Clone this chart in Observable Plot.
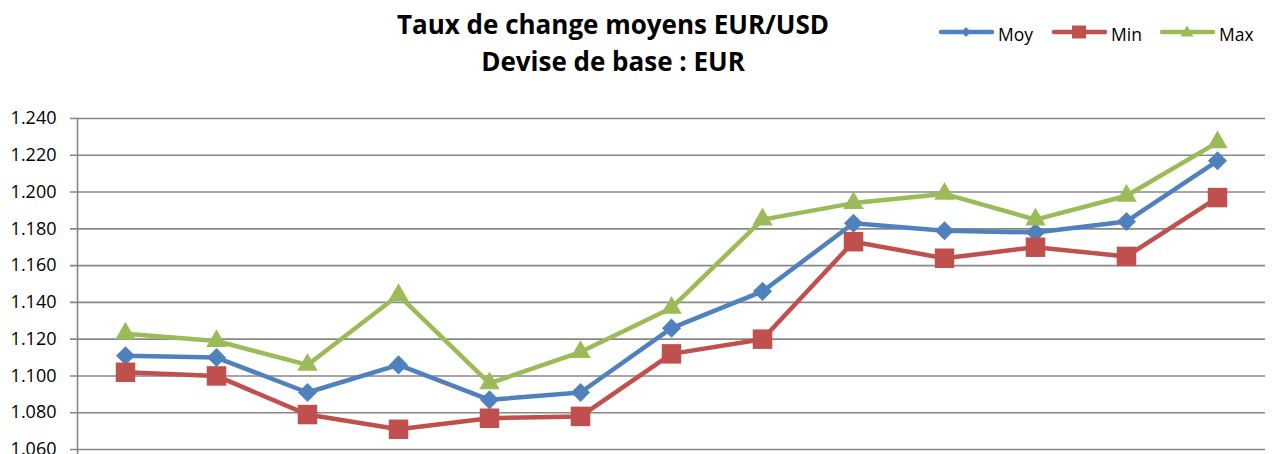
<!DOCTYPE html>
<html>
<head>
<meta charset="utf-8">
<script src="https://cdn.jsdelivr.net/npm/d3@7"></script>
<script src="https://cdn.jsdelivr.net/npm/@observablehq/plot@0.6"></script>
<style>
  html, body { margin: 0; padding: 0; background: #fff; overflow: hidden; }
  body { width: 1274px; height: 454px; font-family: "Open Sans", sans-serif; }
  #header { position: relative; width: 1274px; height: 95px; }
  .title { position: absolute; left: 613px; transform: translateX(-50%); white-space: nowrap;
           font-weight: bold; font-size: 26px; color: #000; line-height: 1; }
  #t1 { top: 11px; }
  #t2 { top: 48px; }
  .lsym { position: absolute; top: 21px; display: block; }
  .ltxt { position: absolute; top: 26px; font-size: 17.5px; line-height: 1; color: #000; white-space: nowrap; }
</style>
</head>
<body>
<div id="header">
  <div class="title" id="t1">Taux de change moyens EUR/USD</div>
  <div class="title" id="t2">Devise de base : EUR</div>
</div>
<div id="chart"></div>
<script>
// ---- Data ----
const categories = ["1","2","3","4","5","6","7","8","9","10","11","12","13"];
const moy = [1.111, 1.110, 1.091, 1.106, 1.087, 1.091, 1.126, 1.146, 1.183, 1.179, 1.178, 1.184, 1.217];
const min = [1.102, 1.100, 1.079, 1.071, 1.077, 1.078, 1.112, 1.120, 1.173, 1.164, 1.170, 1.165, 1.197];
const max = [1.123, 1.119, 1.106, 1.144, 1.096, 1.113, 1.137, 1.185, 1.194, 1.199, 1.185, 1.198, 1.227];
const seriesNames = ["Moy", "Min", "Max"];
const yTicks = [1.060, 1.080, 1.100, 1.120, 1.140, 1.160, 1.180, 1.200, 1.220, 1.240];

const colors = {Moy: "#4F81BD", Min: "#C0504D", Max: "#9BBB59"};
const symbols = {Moy: "diamond2", Min: "square", Max: "triangle"};
const radii = {Moy: 8.6, Min: 11.0, Max: 7.6};
const valuesBy = {Moy: moy, Min: min, Max: max};

const rows = seriesNames.flatMap(s => categories.map((c, i) => ({cat: c, serie: s, value: valuesBy[s][i]})));

// ---- Legend ----
const header = document.getElementById("header");
const legendX = {Moy: 938, Min: 1051, Max: 1159};
const legendSym = {
  Moy: '<path d="M28,6 L33,11 L28,16 L23,11 Z"/>',
  Min: '<rect x="21" y="4.5" width="14" height="13"/>',
  Max: '<path d="M28,4.5 L34.5,15.5 L21.5,15.5 Z"/>'
};
for (const s of seriesNames) {
  const svg = document.createElement("div");
  svg.innerHTML = `<svg class="lsym" width="57" height="22" viewBox="0 0 57 22" style="left:${legendX[s]}px"><line x1="3" y1="11" x2="54" y2="11" stroke="${colors[s]}" stroke-width="4.5" stroke-linecap="round"/><g fill="${colors[s]}">${legendSym[s]}</g></svg>`;
  header.appendChild(svg.firstChild);
  const t = document.createElement("span");
  t.className = "ltxt";
  t.style.left = (legendX[s] + 60) + "px";
  t.textContent = s;
  header.appendChild(t);
}

// ---- Chart ----
const grid = "#878787";
const marks = [
  Plot.gridY(yTicks, {stroke: grid, strokeOpacity: 1, strokeWidth: 1.6, insetLeft: -7}),
  Plot.axisY(yTicks, {label: null, tickSize: 0, tickPadding: 21, tickFormat: d3.format(".3f"), fontSize: 18, fill: "#000"}),
  Plot.frame({anchor: "left", stroke: grid, strokeWidth: 1.6, insetBottom: -6})
];
for (const s of seriesNames) {
  const d = rows.filter(r => r.serie === s);
  marks.push(Plot.line(d, {x: "cat", y: "value", stroke: colors[s], strokeWidth: 4.5, strokeLinejoin: "round"}));
  marks.push(Plot.dot(d, {x: "cat", y: "value", symbol: () => symbols[s], r: radii[s], fill: colors[s], stroke: "none"}));
}

const chart = Plot.plot({
  width: 1274,
  height: 359,
  marginTop: 23,
  marginBottom: 5,
  marginLeft: 77,
  marginRight: 9,
  x: {type: "point", domain: categories, padding: 0.5, axis: null},
  y: {domain: [1.06, 1.24], axis: null},
  symbol: {type: "identity"},
  style: {fontFamily: "Open Sans", fontSize: "18px", color: "#000", background: "#fff", overflow: "visible"},
  marks
});
document.getElementById("chart").appendChild(chart);
</script>
</body>
</html>
